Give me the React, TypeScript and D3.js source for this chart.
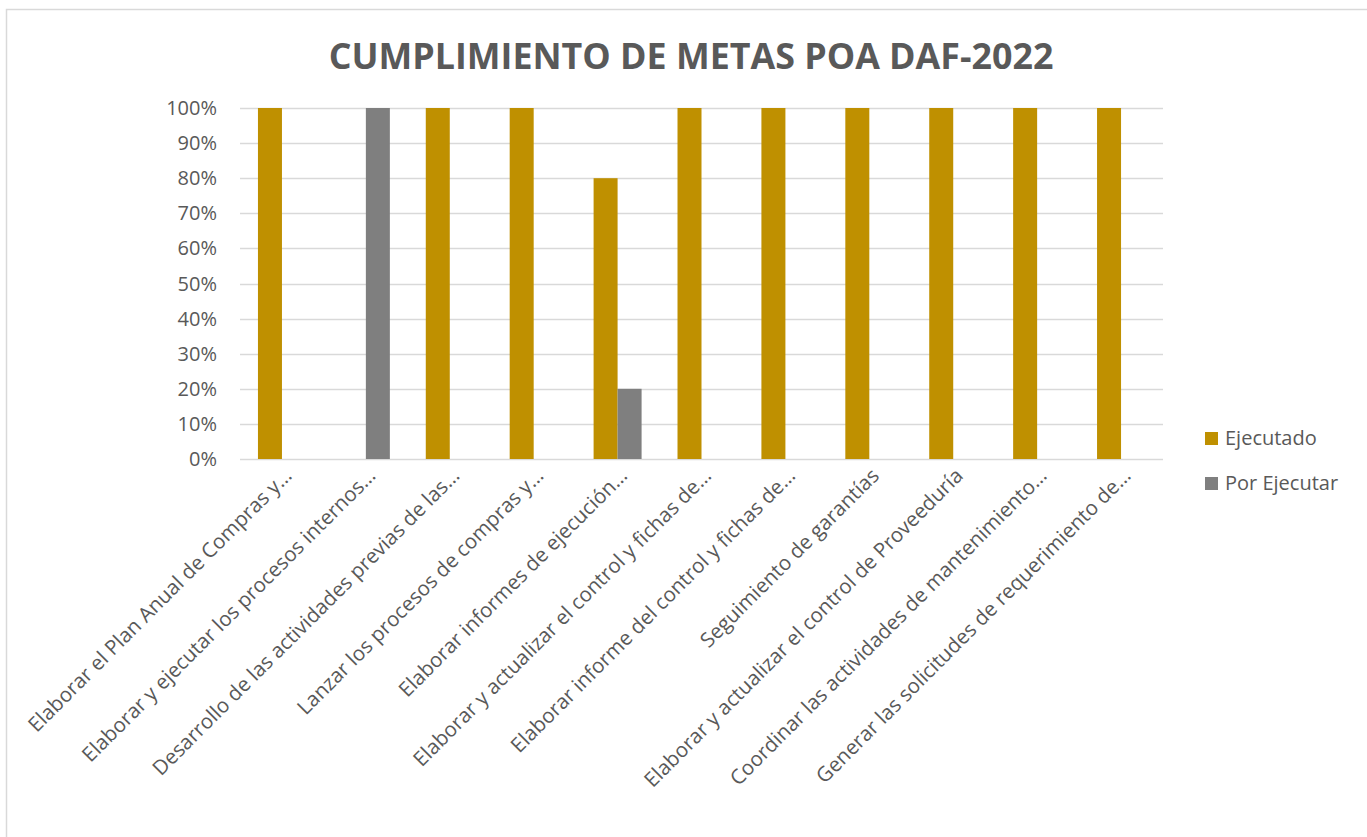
import React, { useEffect, useRef } from "react";
import * as d3 from "d3";

const width = 1367;
const height = 837;
const margin = { left: 240, right: 204, top: 108, bottom: 378 }; // plot area
const font = "'Open Sans', 'DejaVu Sans', sans-serif";
const textColor = "#595959";
const gridColor = "#D9D9D9";

const title = "CUMPLIMIENTO DE METAS POA DAF-2022";
const categories = [
  "Elaborar el Plan Anual de Compras y…",
  "Elaborar y ejecutar los procesos internos…",
  "Desarrollo de las actividades previas de las…",
  "Lanzar los procesos de compras y…",
  "Elaborar informes de ejecución…",
  "Elaborar y actualizar el control y fichas de…",
  "Elaborar informe del control y fichas de…",
  "Seguimiento de garantías",
  "Elaborar y actualizar el control de Proveeduría",
  "Coordinar las actividades de mantenimiento…",
  "Generar las solicitudes de requerimiento de…",
];
const ejecutado = [1, 0, 1, 1, 0.8, 1, 1, 1, 1, 1, 1];
const porEjecutar = [0, 1, 0, 0, 0.2, 0, 0, 0, 0, 0, 0];
const seriesNames = ["Ejecutado", "Por Ejecutar"];
const seriesColors = ["#BF9000", "#7F7F7F"];
const yTicks = [0, 0.1, 0.2, 0.3, 0.4, 0.5, 0.6, 0.7, 0.8, 0.9, 1];

const App = () => {
  const ref = useRef<SVGSVGElement>(null);

  useEffect(() => {
    if (!ref.current) return;
    const svg = d3.select(ref.current);
    svg.selectAll("*").remove();

    const plotW = width - margin.left - margin.right;
    const plotBottom = height - margin.bottom;

    const x = d3
      .scaleBand<string>()
      .domain(categories)
      .range([margin.left, margin.left + plotW]);
    const y = d3.scaleLinear().domain([0, 1]).range([plotBottom, margin.top]);
    const barW = x.bandwidth() * 0.286;

    // chart border (cut off at right/bottom like the reference)
    svg
      .append("rect")
      .attr("x", 6.5)
      .attr("y", 9.5)
      .attr("width", width + 20)
      .attr("height", height + 20)
      .attr("fill", "#fff")
      .attr("stroke", gridColor)
      .attr("stroke-width", 1.5);

    svg
      .append("text")
      .attr("x", 691)
      .attr("y", 69)
      .attr("text-anchor", "middle")
      .attr("font-family", font)
      .attr("font-weight", 700)
      .attr("font-size", 35.8)
      .attr("fill", textColor)
      .text(title);

    // gridlines
    svg
      .append("g")
      .selectAll("line")
      .data(yTicks)
      .join("line")
      .attr("x1", margin.left)
      .attr("x2", margin.left + plotW)
      .attr("y1", (d) => Math.round(y(d)) + 0.5)
      .attr("y2", (d) => Math.round(y(d)) + 0.5)
      .attr("stroke", gridColor)
      .attr("stroke-width", 1.5);

    // y labels
    svg
      .append("g")
      .selectAll("text")
      .data(yTicks)
      .join("text")
      .attr("x", 217)
      .attr("y", (d) => y(d) + 7)
      .attr("text-anchor", "end")
      .attr("font-family", font)
      .attr("font-size", 20)
      .attr("fill", textColor)
      .text((d) => d3.format(".0%")(d));

    const series = [ejecutado, porEjecutar];
    series.forEach((vals, si) => {
      svg
        .append("g")
        .selectAll("rect")
        .data(vals.map((v, i) => ({ v, c: categories[i] })))
        .join("rect")
        .attr("x", (d) => (x(d.c) as number) + x.bandwidth() / 2 - barW + si * barW)
        .attr("y", (d) => y(d.v))
        .attr("width", barW)
        .attr("height", (d) => plotBottom - y(d.v))
        .attr("fill", seriesColors[si]);
    });

    // category labels
    svg
      .append("g")
      .selectAll("text")
      .data(categories)
      .join("text")
      .attr("transform", (d) => {
        const cx = (x(d) as number) + x.bandwidth() / 2 + 11;
        return `translate(${cx},${plotBottom + 18}) rotate(-45)`;
      })
      .attr("text-anchor", "end")
      .attr("font-family", font)
      .attr("font-size", 20.5)
      .attr("fill", textColor)
      .text((d) => d);

    // legend
    const legend = svg
      .append("g")
      .selectAll("g")
      .data(seriesNames)
      .join("g")
      .attr("transform", (_, i) => `translate(1205,${432 + i * 45})`);
    legend
      .append("rect")
      .attr("width", 13)
      .attr("height", 13)
      .attr("fill", (_, i) => seriesColors[i]);
    legend
      .append("text")
      .attr("x", 20)
      .attr("y", 13)
      .attr("font-family", font)
      .attr("font-size", 20)
      .attr("fill", textColor)
      .text((d) => d);
  }, []);

  return (
    <svg
      ref={ref}
      width={width}
      height={height}
      style={{ position: "absolute", left: 0, top: 0, background: "#fff" }}
    />
  );
};

export default App;
